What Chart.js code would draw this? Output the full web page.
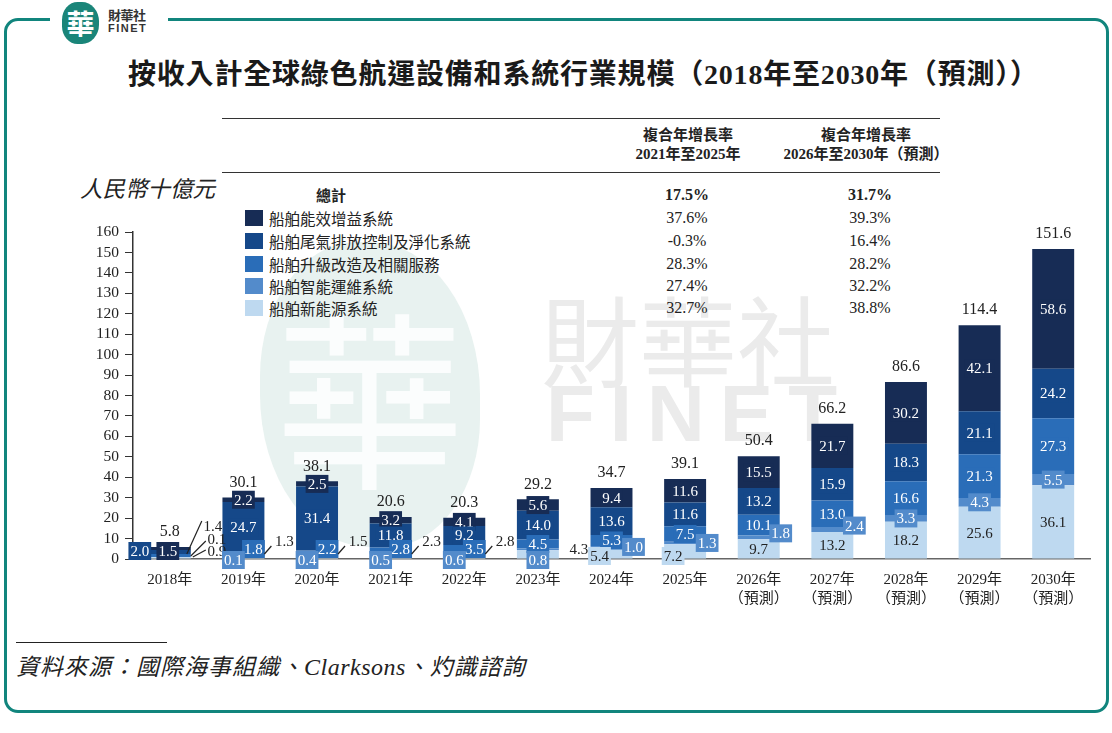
<!DOCTYPE html>
<html><head><meta charset="utf-8">
<script src="https://cdn.jsdelivr.net/npm/chart.js@4.4.1/dist/chart.umd.min.js"></script>
<style>
html,body{margin:0;padding:0;background:#fff;width:1112px;height:733px;overflow:hidden;font-family:"Noto Sans CJK TC","Noto Sans",sans-serif;color:#222;}
.abs{position:absolute;}
#frame{left:4px;top:18px;width:1099px;height:689px;border:3px solid #11857d;border-radius:14px;}
#gap{left:50px;top:10px;width:118px;height:16px;background:#fff;}
#logo{left:62px;top:2px;width:37px;height:42px;background:#1a8579;border-radius:42% 46% 46% 42%;color:#fff;font-size:28px;line-height:42px;text-align:center;font-weight:bold;}
#lt1{left:108px;top:7px;font-size:13px;font-weight:bold;letter-spacing:-0.5px;line-height:16px;color:#333;}
#lt2{left:108px;top:22px;font-size:11px;font-weight:bold;font-family:"Liberation Sans",sans-serif;letter-spacing:1.5px;line-height:13px;color:#333;}
#wm1{left:260px;top:242px;width:220px;height:305px;background:#e8f2f0;border-radius:44% 50% 42% 50%;color:#fbfdfd;font-size:190px;line-height:300px;text-align:center;}
#wm2{left:541px;top:278px;font-size:98px;color:#ebebeb;line-height:116px;}
#wm3{left:546px;top:374px;font-size:80px;color:#ebebeb;font-family:"Liberation Sans",sans-serif;font-weight:bold;letter-spacing:15px;line-height:80px;}
#title{left:128px;top:54px;white-space:nowrap;font-size:28px;letter-spacing:0.8px;font-weight:bold;line-height:36px;color:#1a1a1a;}
#title .n{font-family:"Liberation Serif",serif;}
.hl{height:0;border-top:1.6px solid #333;left:222px;width:718px;}
.hd{font-size:15px;font-weight:bold;text-align:center;line-height:19px;width:260px;white-space:nowrap;}
.hd .n{font-family:"Liberation Serif",serif;font-size:15px;}
.row{font-size:15.5px;line-height:20px;white-space:nowrap;}
.val{font-family:"Liberation Serif",serif;font-size:16px;text-align:center;width:100px;line-height:20px;}
.sq{width:18px;height:16px;}
#unit{left:80px;top:172px;font-size:22.5px;font-style:italic;line-height:30px;color:#222;}
#srcline{left:16px;top:642px;width:151px;border-top:1.5px solid #222;height:0;}
#src{left:16px;top:649px;font-size:23px;letter-spacing:1px;font-style:italic;line-height:32px;color:#222;white-space:nowrap;}
#src .n{font-family:"Liberation Serif",serif;font-size:24px;letter-spacing:0.5px;}
canvas{position:absolute;left:0;top:0;}
</style></head>
<body>
<div id="wm1" class="abs">華</div>
<div id="wm2" class="abs">財華社</div>
<div id="wm3" class="abs">FINET</div>
<div id="frame" class="abs"></div>
<div id="gap" class="abs"></div>
<div id="logo" class="abs">華</div>
<div id="lt1" class="abs">財華社</div>
<div id="lt2" class="abs">FINET</div>
<div id="title" class="abs">按收入計全球綠色航運設備和系統行業規模（<span class="n">2018</span>年至<span class="n">2030</span>年（預測））</div>
<div class="abs hl" style="top:118px"></div>
<div class="abs hl" style="top:172px"></div>
<div class="abs hd" style="left:558px;top:124px">複合年增長率<br><span class="n">2021</span>年至<span class="n">2025</span>年</div>
<div class="abs hd" style="left:736px;top:124px">複合年增長率<br><span class="n">2026</span>年至<span class="n">2030</span>年（預測）</div>
<div id="legend"></div>
<div id="unit" class="abs">人民幣十億元</div>
<div id="srcline" class="abs"></div>
<div id="src" class="abs">資料來源：國際海事組織、<span class="n">Clarksons</span>、灼識諮詢</div>
<canvas id="c" width="1112" height="733"></canvas>
<script>
const categories = ["2018年","2019年","2020年","2021年","2022年","2023年","2024年","2025年","2026年","2027年","2028年","2029年","2030年"];
const forecastFrom = 8;
const seriesNames = ["船舶新能源系統","船舶智能運維系統","船舶升級改造及相關服務","船舶尾氣排放控制及淨化系統","船舶能效增益系統"];
const newEnergy   = [0.9, 1.3, 1.5, 2.3, 2.8, 4.3, 5.4, 7.2, 9.7, 13.2, 18.2, 25.6, 36.1];
const smartOps    = [0.1, 0.1, 0.4, 0.5, 0.6, 0.8, 1.0, 1.3, 1.8, 2.4, 3.3, 4.3, 5.5];
const upgrade     = [1.4, 1.8, 2.2, 2.8, 3.5, 4.5, 5.3, 7.5, 10.1, 13.0, 16.6, 21.3, 27.3];
const exhaust     = [2.0, 24.7, 31.4, 11.8, 9.2, 14.0, 13.6, 11.6, 13.2, 15.9, 18.3, 21.1, 24.2];
const efficiency  = [1.5, 2.2, 2.5, 3.2, 4.1, 5.6, 9.4, 11.6, 15.5, 21.7, 30.2, 42.1, 58.6];
const totals      = [5.8, 30.1, 38.1, 20.6, 20.3, 29.2, 34.7, 39.1, 50.4, 66.2, 86.6, 114.4, 151.6];
const cagrTotal   = ["17.5%","31.7%"];
const cagr2125    = ["37.6%","-0.3%","28.3%","27.4%","32.7%"];
const cagr2630    = ["39.3%","16.4%","28.2%","32.2%","38.8%"];
const yTicks      = [0,10,20,30,40,50,60,70,80,90,100,110,120,130,140,150,160];
const colors = ["#bed9f0","#538bcb","#2a6db8","#154889","#172c55"];
const seriesData = [newEnergy, smartOps, upgrade, exhaust, efficiency];

(function(){
  const L = document.getElementById('legend');
  let h = '<div class="abs row" style="left:316px;top:185px;font-weight:bold;font-size:15px">總計</div>';
  h += '<div class="abs val" style="left:637px;top:185px;font-weight:bold">'+cagrTotal[0]+'</div>';
  h += '<div class="abs val" style="left:820px;top:185px;font-weight:bold">'+cagrTotal[1]+'</div>';
  const order = [4,3,2,1,0];
  const ys = [208,231,254,276,298];
  order.forEach((s,k)=>{
    h += '<div class="abs sq" style="left:245px;top:'+(ys[k]+2)+'px;background:'+colors[s]+'"></div>';
    h += '<div class="abs row" style="left:269px;top:'+ys[k]+'px">'+seriesNames[s]+'</div>';
    h += '<div class="abs val" style="left:637px;top:'+ys[k]+'px">'+cagr2125[k]+'</div>';
    h += '<div class="abs val" style="left:820px;top:'+ys[k]+'px">'+cagr2630[k]+'</div>';
  });
  L.innerHTML = h;
})();

const labelFont = '15px "Liberation Serif", serif';
function boxLabel(ctx, txt, x, y, bg, fg){
  ctx.font = labelFont;
  const w = ctx.measureText(txt).width;
  if (bg){ ctx.fillStyle = bg; ctx.fillRect(x - w/2 - 2, y - 9, w + 4, 18); }
  ctx.fillStyle = fg; ctx.textAlign='center'; ctx.textBaseline='middle';
  ctx.fillText(txt, x, y+1);
}
function leader(ctx, x1,y1,x2,y2){
  ctx.strokeStyle='#222'; ctx.lineWidth=1.2; ctx.beginPath(); ctx.moveTo(x1,y1); ctx.lineTo(x2,y2); ctx.stroke();
}

const labelPlugin = {
  id:'labels',
  afterDatasetsDraw(chart){
    const ctx = chart.ctx;
    const yZero = chart.scales.y.getPixelForValue(0);
    ctx.save();
    const n = categories.length;
    for (let i=0;i<n;i++){
      const els = [0,1,2,3,4].map(d=>chart.getDatasetMeta(d).data[i]);
      const cx = els[0].x, bw = els[0].width;
      const mid = el => (el.y + el.base)/2;
      const top = els[4].y;
      ctx.font = '16px "Liberation Serif", serif'; ctx.fillStyle='#222'; ctx.textAlign='center'; ctx.textBaseline='middle';
      ctx.fillText(totals[i].toFixed(1), cx, top - 15);
      const v = d => seriesData[d][i].toFixed(1);
      if (totals[i] < 10){
        boxLabel(ctx, v(3), cx - 30, yZero - 8, colors[3], '#fff');
        boxLabel(ctx, v(4), cx - 2, yZero - 8, colors[4], '#fff');
        const rx = cx + bw/2 + 20;
        boxLabel(ctx, v(2), rx + 2, yZero - 33, null, '#222');
        boxLabel(ctx, v(1), rx + 6, yZero - 20, null, '#222');
        boxLabel(ctx, v(0), rx + 6, yZero - 8, null, '#222');
        leader(ctx, cx + bw/2 - 4, yZero - 5, rx - 9, yZero - 38);
        leader(ctx, cx + bw/2, yZero - 3, rx - 5, yZero - 18);
        leader(ctx, cx + bw/2 + 2, yZero - 2, rx - 5, yZero - 9);
        continue;
      }
      boxLabel(ctx, v(4), cx, mid(els[4]), colors[4], '#fff');
      boxLabel(ctx, v(3), cx, mid(els[3]), colors[3], '#fff');
      if (upgrade[i] < 4) boxLabel(ctx, v(2), cx + 10, yZero - 10, colors[2], '#fff');
      else boxLabel(ctx, v(2), cx, mid(els[2]), colors[2], '#fff');
      if (newEnergy[i] < 5){
        const lx = cx + bw/2 + 16;
        if (newEnergy[i] < 4){
          boxLabel(ctx, v(0), lx + 4, yZero - 18, null, '#222');
          leader(ctx, cx + bw/2, yZero - 5, lx - 9, yZero - 13);
        } else {
          boxLabel(ctx, v(0), lx + 4, yZero - 10, null, '#222');
        }
      } else if (i < forecastFrom) {
        boxLabel(ctx, v(0), cx - 12, yZero - 3, colors[0], '#222');
      } else {
        boxLabel(ctx, v(0), cx, mid(els[0]), null, '#222');
      }
      if (i < 6) boxLabel(ctx, v(1), cx - (i===5?0:10), yZero + 1, colors[1], '#fff');
      else if (smartOps[i] < 3) boxLabel(ctx, v(1), cx + 22, mid(els[1]) - (i<8?0:4), colors[1], '#fff');
      else boxLabel(ctx, v(1), cx, mid(els[1]), colors[1], '#fff');
    }
    ctx.restore();
  }
};

const datasets = seriesData.map((arr,d)=>({
  label: seriesNames[d], data: arr, backgroundColor: colors[d], borderWidth:0,
  barPercentage:0.57, categoryPercentage:1.0, stack:'s'
}));
const xLabels = categories.map((c,i)=> i>=forecastFrom ? [c,'（預測）'] : c);

new Chart(document.getElementById('c'), {
  type:'bar',
  data:{ labels:xLabels, datasets },
  options:{
    responsive:false, animation:false, devicePixelRatio:1,
    layout:{ padding:{ left:60, right:22, top:232, bottom:124 } },
    plugins:{ legend:{display:false}, tooltip:{enabled:false} },
    scales:{
      x:{ stacked:true, offset:true,
          grid:{ display:true, drawOnChartArea:false, drawTicks:false },
          border:{ display:true, color:'#666', width:1.5 },
          ticks:{ color:'#222', padding:11, font:{ family:'"Liberation Serif","Noto Sans CJK TC",serif', size:15, lineHeight:1.3 }, maxRotation:0, autoSkip:false },
          afterFit(s){ s.height = 50; } },
      y:{ stacked:true, min:0, max:160, afterBuildTicks(s){ s.ticks = yTicks.map(v=>({value:v})); },
          grid:{ display:true, drawOnChartArea:false, drawTicks:true, tickLength:8, color:'#333' },
          border:{ display:true, color:'#333', width:1.5 },
          ticks:{ color:'#222', padding:6, autoSkip:false, font:{ family:'"Liberation Serif",serif', size:15.5 } },
          afterFit(s){ s.width = 73; } }
    }
  },
  plugins:[labelPlugin]
});
</script>
</body></html>
